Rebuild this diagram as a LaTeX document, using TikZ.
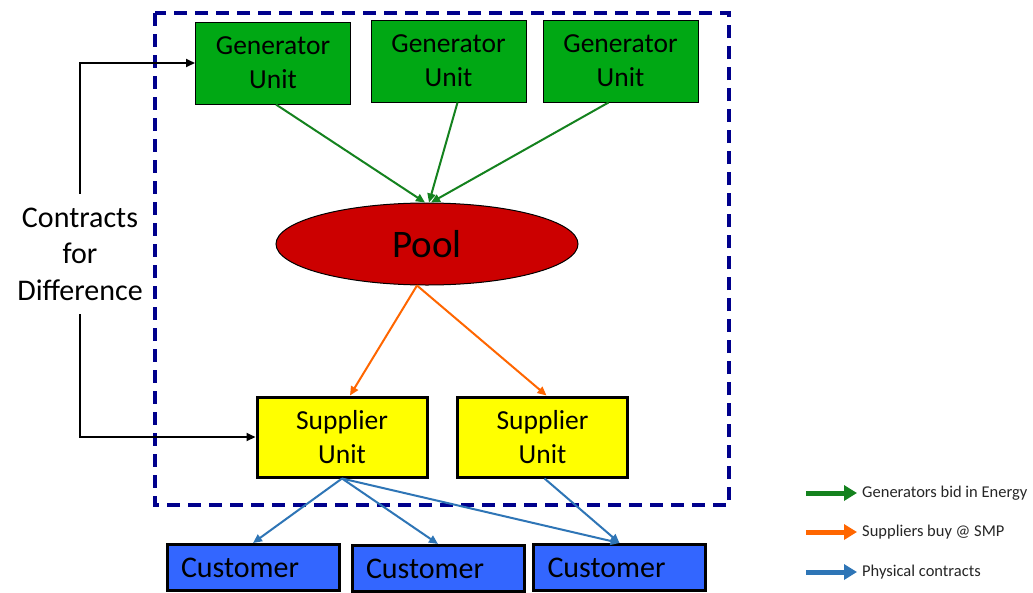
\documentclass[tikz,border=0pt]{standalone}
\usepackage{fontspec}
\setmainfont{Carlito}
\usetikzlibrary{arrows.meta,shapes.geometric,calc}
\definecolor{navyb}{RGB}{0,0,140}
\definecolor{genfill}{RGB}{0,168,20}
\definecolor{poolred}{RGB}{204,0,0}
\definecolor{supyel}{RGB}{255,255,0}
\definecolor{custblue}{RGB}{51,102,255}
\definecolor{arrgreen}{RGB}{20,130,30}
\definecolor{arrorange}{RGB}{255,102,0}
\definecolor{arrblue}{RGB}{46,117,182}
\tikzset{
  genbox/.style={draw=black, line width=1pt, fill=genfill, minimum width=155pt, minimum height=82pt,
     inner sep=0pt, align=center, font=\fontsize{27.5}{34}\selectfont},
  supbox/.style={draw=black, line width=3pt, fill=supyel, minimum width=170pt, minimum height=80pt,
     inner sep=0pt, align=center, font=\fontsize{27.5}{34}\selectfont},
  custbox/.style={draw=black, line width=3pt, fill=custblue, minimum height=46pt, text width=144pt,
     inner xsep=14pt, inner ysep=0pt, align=left, font=\fontsize{30}{36}\selectfont},
  greenarr/.style={draw=arrgreen, line width=2pt, -{Triangle[length=9pt,width=8pt]}},
  orangearr/.style={draw=arrorange, line width=2pt, -{Triangle[length=9pt,width=8pt]}},
  bluearr/.style={draw=arrblue, line width=2pt, -{Triangle[length=9pt,width=8pt]}},
  blackarr/.style={draw=black, line width=2pt, -{Triangle[length=9pt,width=8pt]}},
  legarr/.style={line width=5pt, -{Triangle[length=13pt,width=15pt]}},
  legtext/.style={anchor=west, inner sep=0pt, text=black!85, font=\fontsize{16.5}{20}\selectfont},
}
\begin{document}
\begin{tikzpicture}[x=1pt,y=-1pt]
\useasboundingbox (0,0) rectangle (1033,592);
\clip (0,0) rectangle (1033,592);
\fill[white] (0,0) rectangle (1033,592);
% dashed frame
\draw[navyb, line width=3.5pt, dash pattern=on 13pt off 8pt] (155,13) rectangle (729,505);
% nodes
\node[genbox] (g1) at (273,63) {Generator\\Unit};
\node[genbox] (g2) at (448.5,61) {Generator\\Unit};
\node[genbox] (g3) at (620.5,61) {Generator\\Unit};
\node[ellipse, draw=black, line width=1pt, fill=poolred, minimum width=302pt, minimum height=82pt,
      inner sep=0pt, font=\fontsize{39}{44}\selectfont] (pool) at (427,244) {Pool};
\node[supbox] (s1) at (342,437) {Supplier\\Unit};
\node[supbox] (s2) at (542.5,437) {Supplier\\Unit};
\node[custbox] (c1) at (253,567.5) {Customer};
\node[custbox] (c2) at (438,568.5) {Customer};
\node[custbox] (c3) at (619.5,567.5) {Customer};
\node[align=center, minimum height=120pt, inner sep=0pt, font=\fontsize{30}{36.5}\selectfont] (cfd) at (80,254) {Contracts\\for\\Difference};
% green
\draw[greenarr] ($(g1.south)+(3,0)$) -- ($(pool.north)+(-2,0)$);
\draw[greenarr] ($(g2.south)+(9,0)$) -- ($(pool.north)+(2,0)$);
\draw[greenarr] ($(g3.south)+(-12,0)$) -- ($(pool.north)+(4,0)$);
% orange
\draw[orangearr] ($(pool.south)+(-10,0)$) -- ($(s1.north)+(8,0)$);
\draw[orangearr] ($(pool.south)+(-10,0)$) -- ($(s2.north)+(4,0)$);
% blue
\draw[bluearr] (s1.south) -- (c1.north);
\draw[bluearr] (s1.south) -- (c2.north);
\draw[bluearr] (s1.south) -- (c3.north);
\draw[bluearr] ($(s2.south)+(2,0)$) -- (c3.north);
% black CfD
\draw[blackarr] (cfd.north) |- (g1.west);
\draw[blackarr] (cfd.south) |- (s1.west);
% legend
\coordinate (l1a) at (806,493); \coordinate (l1b) at (857,493);
\coordinate (l2a) at (806,532); \coordinate (l2b) at (857,532);
\coordinate (l3a) at (806,572); \coordinate (l3b) at (857,572);
\draw[legarr, arrgreen] (l1a) -- (l1b);
\draw[legarr, arrorange] (l2a) -- (l2b);
\draw[legarr, arrblue] (l3a) -- (l3b);
\node[legtext] (t1) at (862,493) {Generators bid in Energy};
\node[legtext] (t2) at (862,532) {Suppliers buy @ SMP};
\node[legtext] (t3) at (862,572) {Physical contracts};
\end{tikzpicture}
\end{document}
